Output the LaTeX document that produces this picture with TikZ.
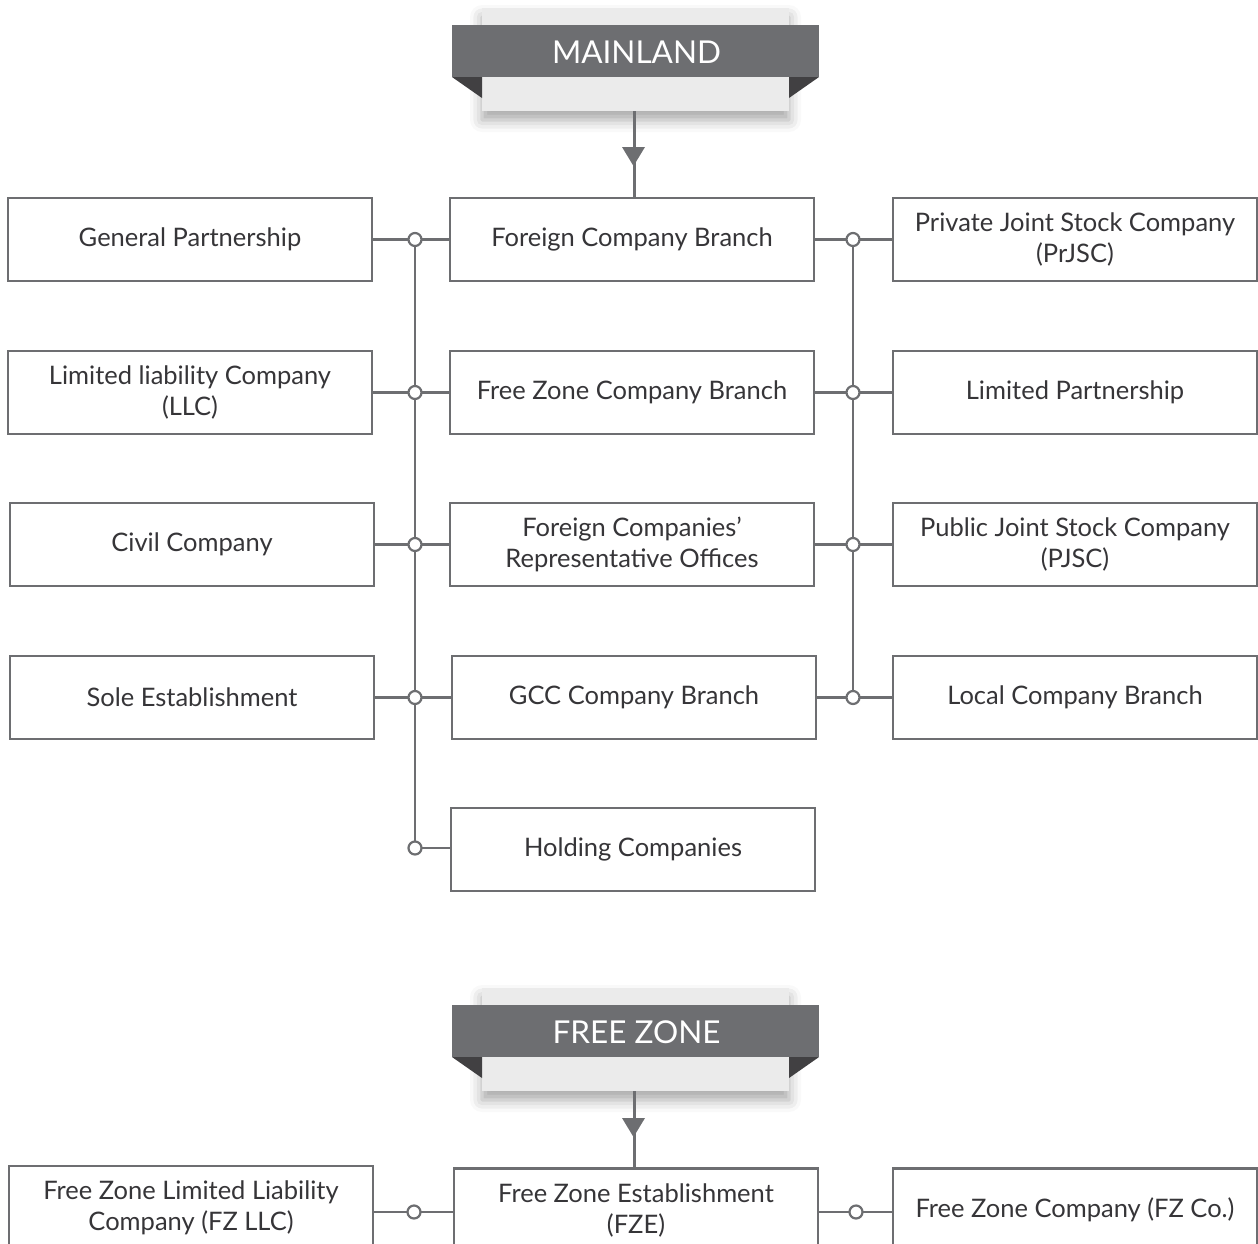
\documentclass[tikz,border=0pt]{standalone}
\usepackage{fontspec}
\setmainfont{Lato}
\usetikzlibrary{shadows.blur,arrows.meta}
\definecolor{linegray}{HTML}{6D6E71}
\definecolor{darkfold}{HTML}{414042}
\definecolor{paleback}{HTML}{EBEBEB}
\definecolor{textgray}{HTML}{363538}
\tikzset{
  entity/.style={draw=linegray, line width=2.4pt, fill=white, minimum width=364pt,
    minimum height=83pt, align=center, text=textgray, font=\fontsize{25.5}{31}\selectfont,
    inner sep=4pt},
  joint/.style={circle, draw=linegray, line width=2.2pt, fill=white, minimum size=13pt, inner sep=0pt},
  bus/.style={draw=linegray, line width=2.4pt},
  stem/.style={draw=linegray, line width=3pt},
  bannertext/.style={text=white, font=\fontsize{31.5}{32}\selectfont},
}
\newcommand{\ribbon}[3]{% top y of pale card, name, label
  \fill[paleback, blur shadow={shadow xshift=0pt, shadow yshift=-9pt, shadow blur radius=12pt, shadow opacity=35}]
    (482,#1) rectangle (789,#1+103);
  \fill[darkfold] (452,#1+69) -- (482,#1+69) -- (482,#1+90) -- cycle;
  \fill[darkfold] (789,#1+69) -- (819,#1+69) -- (789,#1+90) -- cycle;
  \fill[linegray] (452,#1+17) rectangle (819,#1+69);
  \node[bannertext] (#2) at (636.5,#1+44) {#3};
  \coordinate (#2-foot) at (634,#1+103);
}
\begin{document}
\begin{tikzpicture}[x=1pt,y=-1pt]
\useasboundingbox (0,0) rectangle (1258,1243);
\clip (0,0) rectangle (1258,1243);

% ---------- Mainland ----------
\ribbon{8}{mainland}{MAINLAND}

\node[entity] (gp)   at (190,239.5) {General Partnership};
\node[entity] (llc)  at (190,392.5) {Limited liability Company\\(LLC)};
\node[entity] (civ)  at (192,544.5) {Civil Company};
\node[entity] (sole) at (192,697.5) {Sole Establishment};

\node[entity] (fcb)  at (632,239.5) {Foreign Company Branch};
\node[entity] (fzcb) at (632,392.5) {Free Zone Company Branch};
\node[entity] (fcro) at (632,544.5) {Foreign Companies’\\Representative Offices};
\node[entity] (gcc)  at (634,697.5) {GCC Company Branch};
\node[entity] (hold) at (633,849.5) {Holding Companies};

\node[entity] (prjsc) at (1075,239.5) {Private Joint Stock Company\\(PrJSC)};
\node[entity] (lp)    at (1075,392.5) {Limited Partnership};
\node[entity] (pjsc)  at (1075,544.5) {Public Joint Stock Company\\(PJSC)};
\node[entity] (lcb)   at (1075,697.5) {Local Company Branch};

% junction points on the two vertical buses
\coordinate (l1) at (415,239.5);
\coordinate (l2) at (415,392.5);
\coordinate (l3) at (415,544.5);
\coordinate (l4) at (415,697.5);
\coordinate (l5) at (415,848);
\coordinate (r1) at (853,239.5);
\coordinate (r2) at (853,392.5);
\coordinate (r3) at (853,544.5);
\coordinate (r4) at (853,697.5);

\draw[bus] (l1) -- (l5);
\draw[bus] (r1) -- (r4);
\draw[bus] (gp.east) -- (fcb.west);
\draw[bus] (llc.east) -- (fzcb.west);
\draw[bus] (civ.east) -- (fcro.west);
\draw[bus] (sole.east) -- (gcc.west);
\draw[bus] (l5) -- (hold.west |- l5);
\draw[bus] (fcb.east) -- (prjsc.west);
\draw[bus] (fzcb.east) -- (lp.west);
\draw[bus] (fcro.east) -- (pjsc.west);
\draw[bus] (gcc.east) -- (lcb.west);

\foreach \p in {l1,l2,l3,l4,l5,r1,r2,r3,r4}
  \node[joint] at (\p) {};

\draw[stem] (mainland-foot) -- (mainland-foot |- fcb.north);
\fill[linegray] (622,147) -- (645,147) -- (633.5,166) -- cycle;

% ---------- Free zone ----------
\ribbon{988}{freezone}{FREE ZONE}

\node[entity] (fzllc) at (191,1207.5) {Free Zone Limited Liability\\Company (FZ LLC)};
\node[entity] (fze)   at (636,1210) {Free Zone Establishment\\(FZE)};
\node[entity] (fzco)  at (1075,1210) {Free Zone Company (FZ Co.)};

\coordinate (fl) at (414,1212);
\coordinate (fr) at (856,1212);
\draw[bus] (fzllc.east |- fl) -- (fze.west |- fl);
\draw[bus] (fze.east |- fr) -- (fzco.west |- fr);
\node[joint] at (fl) {};
\node[joint] at (fr) {};

\draw[stem] (freezone-foot) -- (freezone-foot |- fze.north);
\fill[linegray] (622,1118) -- (645,1118) -- (633.5,1137) -- cycle;
\end{tikzpicture}
\end{document}
